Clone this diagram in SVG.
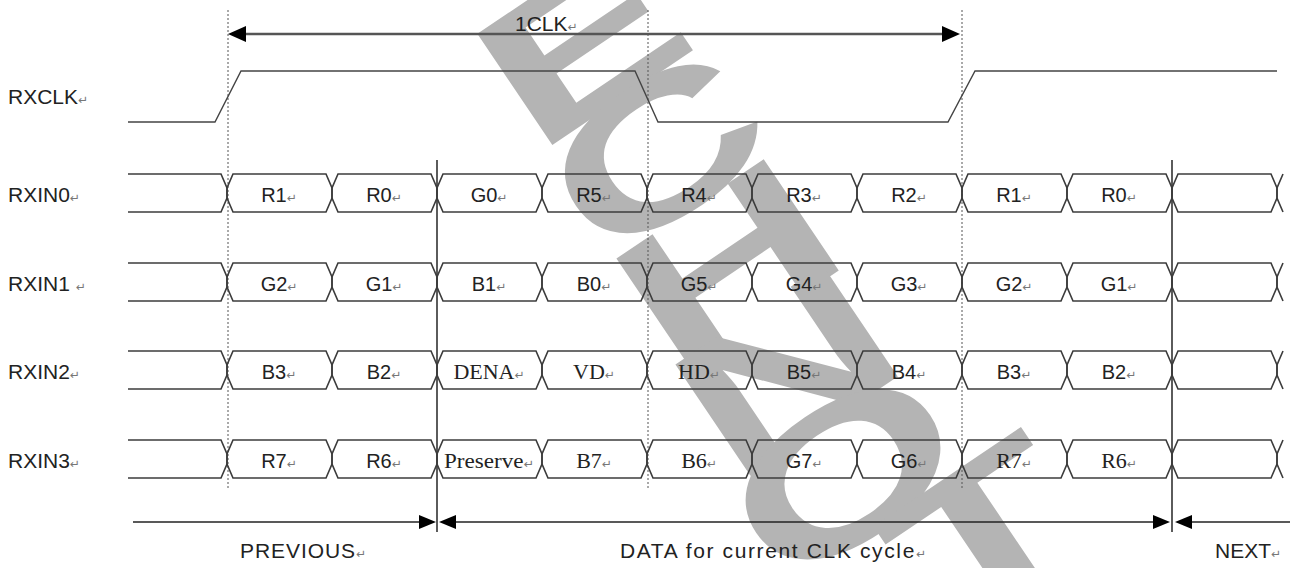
<svg xmlns="http://www.w3.org/2000/svg" xmlns:xlink="http://www.w3.org/1999/xlink" width="1294" height="568" viewBox="0 0 1294 568">
<style>
.wm{fill:#b4b4b4;font-family:"Liberation Sans",Arial,sans-serif;font-weight:bold;font-size:195px;text-anchor:middle}
.sig{fill:none;stroke:#3c3c3c;stroke-width:1.6}
.clk{fill:none;stroke:#444;stroke-width:1.4}
.dot{stroke:#555;stroke-width:1;stroke-dasharray:2,2}
.solid{stroke:#333;stroke-width:1.6}
.arr{stroke:#222;stroke-width:1.5}
.arrtop{stroke:#555;stroke-width:2.6}
.head{fill:#000}
.t{font-family:"Liberation Sans",Arial,sans-serif;font-size:21px;fill:#222}
.c{font-family:"Liberation Sans",Arial,sans-serif;font-size:20px;fill:#222;text-anchor:middle}
.s{font-family:"Liberation Serif","Times New Roman",serif;font-size:22px;fill:#222;text-anchor:middle}
.ret{font-family:"DejaVu Sans",sans-serif;font-size:12px;fill:#777}
</style>
<defs>
<polygon id="hex" class="sig" points="6,0 99,0 105,14 105,24 99,38 6,38 0,24 0,14"/>
</defs>
<rect width="1294" height="568" fill="#fff"/>

<g id="watermark">
<text class="wm" transform="translate(580,42) rotate(-34) scale(1.55,1)" y="70">E</text>
<text class="wm" transform="translate(655,150) rotate(-34) scale(1.55,1)" y="70">C</text>
<text class="wm" transform="translate(726,262) rotate(-34) scale(1.55,1)" y="70">H</text>
<text class="wm" transform="translate(785,368) rotate(-34) scale(1.55,1)" y="70">N</text>
<text class="wm" transform="translate(842,472) rotate(-34) scale(1.55,1)" y="70">O</text>
<text class="wm" transform="translate(983,530) rotate(-34) scale(1.55,1)" y="70">T</text>
</g>

<g id="guides">
<line class="dot" x1="228" y1="10" x2="228" y2="490"/>
<line class="dot" x1="648" y1="10" x2="648" y2="490"/>
<line class="dot" x1="962" y1="10" x2="962" y2="490"/>
<line class="solid" x1="437" y1="160" x2="437" y2="532"/>
<line class="solid" x1="1172" y1="160" x2="1172" y2="532"/>
</g>

<g id="labels">
<text class="t" x="8" y="104">RXCLK<tspan class="ret">↵</tspan></text>
<text class="t" x="8" y="202">RXIN0<tspan class="ret">↵</tspan></text>
<text class="t" x="8" y="291">RXIN1 <tspan class="ret">↵</tspan></text>
<text class="t" x="8" y="379">RXIN2<tspan class="ret">↵</tspan></text>
<text class="t" x="8" y="468">RXIN3<tspan class="ret">↵</tspan></text>
</g>

<g id="RXCLK">
<path class="clk" d="M128,122 H215 L241,71 H635 L658,122 H948 L975,71 H1277"/>
</g>

<g id="RXIN0">
<path class="sig" d="M128,174 H221 L227,188 V198 L221,212 H128"/>
<use xlink:href="#hex" x="227" y="174"/><use xlink:href="#hex" x="332" y="174"/><use xlink:href="#hex" x="437" y="174"/><use xlink:href="#hex" x="542" y="174"/><use xlink:href="#hex" x="647" y="174"/><use xlink:href="#hex" x="752" y="174"/><use xlink:href="#hex" x="857" y="174"/><use xlink:href="#hex" x="962" y="174"/><use xlink:href="#hex" x="1067" y="174"/><use xlink:href="#hex" x="1172" y="174"/>
<path class="sig" d="M1283,174 L1277,188 V198 L1283,212"/>
<text class="c" x="279" y="202">R1<tspan class="ret">↵</tspan></text>
<text class="c" x="384" y="202">R0<tspan class="ret">↵</tspan></text>
<text class="c" x="489" y="202">G0<tspan class="ret">↵</tspan></text>
<text class="c" x="594" y="202">R5<tspan class="ret">↵</tspan></text>
<text class="c" x="699" y="202">R4<tspan class="ret">↵</tspan></text>
<text class="c" x="804" y="202">R3<tspan class="ret">↵</tspan></text>
<text class="c" x="909" y="202">R2<tspan class="ret">↵</tspan></text>
<text class="c" x="1014" y="202">R1<tspan class="ret">↵</tspan></text>
<text class="c" x="1119" y="202">R0<tspan class="ret">↵</tspan></text>
</g>

<g id="RXIN1">
<path class="sig" d="M128,263 H221 L227,277 V287 L221,301 H128"/>
<use xlink:href="#hex" x="227" y="263"/><use xlink:href="#hex" x="332" y="263"/><use xlink:href="#hex" x="437" y="263"/><use xlink:href="#hex" x="542" y="263"/><use xlink:href="#hex" x="647" y="263"/><use xlink:href="#hex" x="752" y="263"/><use xlink:href="#hex" x="857" y="263"/><use xlink:href="#hex" x="962" y="263"/><use xlink:href="#hex" x="1067" y="263"/><use xlink:href="#hex" x="1172" y="263"/>
<path class="sig" d="M1283,263 L1277,277 V287 L1283,301"/>
<text class="c" x="279" y="291">G2<tspan class="ret">↵</tspan></text>
<text class="c" x="384" y="291">G1<tspan class="ret">↵</tspan></text>
<text class="c" x="489" y="291">B1<tspan class="ret">↵</tspan></text>
<text class="c" x="594" y="291">B0<tspan class="ret">↵</tspan></text>
<text class="c" x="699" y="291">G5<tspan class="ret">↵</tspan></text>
<text class="c" x="804" y="291">G4<tspan class="ret">↵</tspan></text>
<text class="c" x="909" y="291">G3<tspan class="ret">↵</tspan></text>
<text class="c" x="1014" y="291">G2<tspan class="ret">↵</tspan></text>
<text class="c" x="1119" y="291">G1<tspan class="ret">↵</tspan></text>
</g>

<g id="RXIN2">
<path class="sig" d="M128,351 H221 L227,365 V375 L221,389 H128"/>
<use xlink:href="#hex" x="227" y="351"/><use xlink:href="#hex" x="332" y="351"/><use xlink:href="#hex" x="437" y="351"/><use xlink:href="#hex" x="542" y="351"/><use xlink:href="#hex" x="647" y="351"/><use xlink:href="#hex" x="752" y="351"/><use xlink:href="#hex" x="857" y="351"/><use xlink:href="#hex" x="962" y="351"/><use xlink:href="#hex" x="1067" y="351"/><use xlink:href="#hex" x="1172" y="351"/>
<path class="sig" d="M1283,351 L1277,365 V375 L1283,389"/>
<text class="c" x="279" y="379">B3<tspan class="ret">↵</tspan></text>
<text class="c" x="384" y="379">B2<tspan class="ret">↵</tspan></text>
<text class="s" x="489" y="379">DENA<tspan class="ret">↵</tspan></text>
<text class="s" x="594" y="379">VD<tspan class="ret">↵</tspan></text>
<text class="s" x="699" y="379">HD<tspan class="ret">↵</tspan></text>
<text class="c" x="804" y="379">B5<tspan class="ret">↵</tspan></text>
<text class="c" x="909" y="379">B4<tspan class="ret">↵</tspan></text>
<text class="c" x="1014" y="379">B3<tspan class="ret">↵</tspan></text>
<text class="c" x="1119" y="379">B2<tspan class="ret">↵</tspan></text>
</g>

<g id="RXIN3">
<path class="sig" d="M128,440 H221 L227,454 V464 L221,478 H128"/>
<use xlink:href="#hex" x="227" y="440"/><use xlink:href="#hex" x="332" y="440"/><use xlink:href="#hex" x="437" y="440"/><use xlink:href="#hex" x="542" y="440"/><use xlink:href="#hex" x="647" y="440"/><use xlink:href="#hex" x="752" y="440"/><use xlink:href="#hex" x="857" y="440"/><use xlink:href="#hex" x="962" y="440"/><use xlink:href="#hex" x="1067" y="440"/><use xlink:href="#hex" x="1172" y="440"/>
<path class="sig" d="M1283,440 L1277,454 V464 L1283,478"/>
<text class="c" x="279" y="468">R7<tspan class="ret">↵</tspan></text>
<text class="c" x="384" y="468">R6<tspan class="ret">↵</tspan></text>
<text class="s" x="489" y="468" textLength="90" lengthAdjust="spacingAndGlyphs">Preserve<tspan class="ret">↵</tspan></text>
<text class="s" x="594" y="468">B7<tspan class="ret">↵</tspan></text>
<text class="s" x="699" y="468">B6<tspan class="ret">↵</tspan></text>
<text class="c" x="804" y="468">G7<tspan class="ret">↵</tspan></text>
<text class="c" x="909" y="468">G6<tspan class="ret">↵</tspan></text>
<text class="s" x="1014" y="468">R7<tspan class="ret">↵</tspan></text>
<text class="s" x="1119" y="468">R6<tspan class="ret">↵</tspan></text>
</g>

<g id="connectors">
<line class="arrtop" x1="244" y1="34" x2="944" y2="34"/>
<polygon class="head" points="228,34 246,26 246,42"/>
<polygon class="head" points="960,34 942,26 942,42"/>
<line class="arr" x1="133" y1="522" x2="420" y2="522"/>
<polygon class="head" points="436,522 419,515 419,529"/>
<line class="arr" x1="455" y1="522" x2="1154" y2="522"/>
<polygon class="head" points="439,522 456,515 456,529"/>
<polygon class="head" points="1170,522 1153,515 1153,529"/>
<line class="arr" x1="1191" y1="522" x2="1290" y2="522"/>
<polygon class="head" points="1175,522 1192,515 1192,529"/>
</g>

<g id="captions">
<text class="t" x="515" y="31">1CLK<tspan class="ret">↵</tspan></text>
<text class="t" x="240" y="558" textLength="126">PREVIOUS<tspan class="ret">↵</tspan></text>
<text class="t" x="620" y="558" textLength="306">DATA for current CLK cycle<tspan class="ret">↵</tspan></text>
<text class="t" x="1215" y="558">NEXT<tspan class="ret">↵</tspan></text>
</g>
</svg>
